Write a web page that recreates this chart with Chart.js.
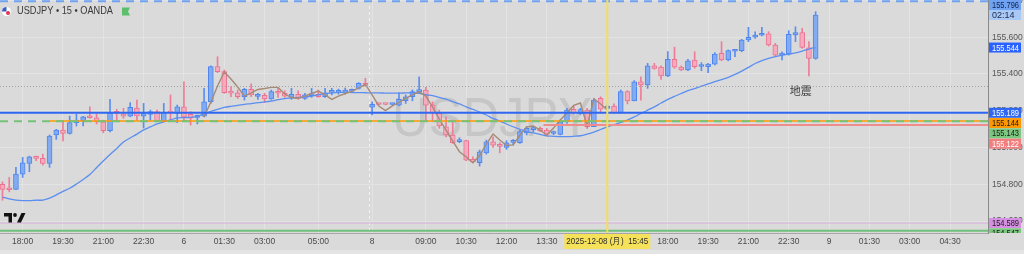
<!DOCTYPE html>
<html>
<head>
<meta charset="utf-8">
<script src="https://cdn.jsdelivr.net/npm/chart.js@4.4.1/dist/chart.umd.min.js"></script>
<style>
  html, body { margin: 0; padding: 0; background: #dadada; }
  #wrap { width: 1024px; height: 254px; }
</style>
</head>
<body>
<div id="wrap"><canvas id="chart" width="1024" height="254"></canvas></div>
<script>
// USDJPY 15m, bar 0 = 2025-12-05 17:15 (JST), weekend gap after bar 54
const opens = [
  154.799,154.772,154.772,154.855,154.913,154.949,154.941,154.913,155.068,155.095,
  155.077,155.135,155.146,155.167,155.162,155.140,155.091,155.189,155.182,155.171,
  155.215,155.170,155.180,155.195,155.144,155.192,155.186,155.222,155.180,155.164,
  155.171,155.249,155.440,155.413,155.300,155.298,155.276,155.317,155.278,155.284,
  155.264,155.298,155.295,155.273,155.289,155.267,155.282,155.289,155.276,155.300,
  155.300,155.298,155.306,155.322,155.349,155.219,155.236,155.235,155.234,155.231,
  155.255,155.276,155.304,155.313,155.231,155.186,155.113,155.068,155.032,155.037,
  154.935,154.917,154.971,155.031,155.012,155.001,155.028,155.026,155.080,155.097,
  155.104,155.095,155.076,155.071,155.140,155.208,155.186,155.204,155.113,155.267,
  155.213,155.226,155.189,155.304,155.254,155.358,155.340,155.445,155.437,155.389,
  155.480,155.437,155.422,155.476,155.441,155.440,155.454,155.513,155.476,155.524,
  155.527,155.585,155.600,155.611,155.618,155.558,155.503,155.509,155.612,155.625,
  155.543,155.485
];
const highs = [
  154.813,154.837,154.892,154.946,154.953,154.953,154.964,155.068,155.099,155.140,
  155.171,155.182,155.170,155.222,155.182,155.149,155.262,155.208,155.213,155.244,
  155.258,155.240,155.204,155.204,155.240,155.286,155.231,155.358,155.195,155.177,
  155.322,155.444,155.494,155.422,155.331,155.313,155.322,155.346,155.295,155.295,
  155.313,155.322,155.309,155.322,155.309,155.295,155.322,155.313,155.322,155.322,
  155.318,155.324,155.318,155.353,155.377,155.249,155.238,155.237,155.238,155.298,
  155.286,155.313,155.385,155.328,155.249,155.204,155.167,155.149,155.053,155.040,
  154.949,154.986,155.040,155.058,155.026,155.037,155.044,155.099,155.113,155.111,
  155.113,155.104,155.090,155.149,155.213,155.226,155.213,155.213,155.267,155.276,
  155.237,155.237,155.313,155.309,155.364,155.385,155.458,155.458,155.444,155.522,
  155.546,155.444,155.480,155.521,155.462,155.458,155.516,155.576,155.531,155.534,
  155.589,155.654,155.630,155.654,155.630,155.567,155.521,155.636,155.657,155.649,
  155.576,155.739
];
const lows = [
  154.713,154.759,154.770,154.837,154.868,154.928,154.904,154.892,155.044,155.036,
  155.073,155.117,155.117,155.159,155.128,155.080,155.085,155.140,155.159,155.167,
  155.149,155.106,155.149,155.140,155.140,155.140,155.135,155.140,155.122,155.128,
  155.167,155.240,155.407,155.295,155.276,155.267,155.258,155.276,155.262,155.244,
  155.262,155.273,155.273,155.262,155.262,155.262,155.273,155.273,155.273,155.286,
  155.290,155.290,155.298,155.318,155.333,155.177,155.232,155.232,155.232,155.226,
  155.240,155.254,155.295,155.140,155.140,155.104,155.058,155.022,155.026,154.928,
  154.917,154.899,154.964,155.001,154.971,154.990,155.013,155.022,155.068,155.084,
  155.086,155.062,155.070,155.068,155.131,155.182,155.180,155.104,155.113,155.195,
  155.204,155.186,155.186,155.237,155.254,155.258,155.322,155.426,155.371,155.385,
  155.431,155.418,155.418,155.431,155.418,155.407,155.449,155.472,155.472,155.494,
  155.521,155.576,155.594,155.607,155.552,155.498,155.476,155.503,155.576,155.540,
  155.389,155.480
];
const closes = [
  154.772,154.770,154.855,154.917,154.949,154.941,154.913,155.062,155.095,155.077,
  155.135,155.149,155.167,155.162,155.140,155.091,155.189,155.186,155.171,155.219,
  155.172,155.184,155.195,155.144,155.191,155.188,155.222,155.167,155.159,155.169,
  155.249,155.440,155.413,155.298,155.296,155.276,155.317,155.286,155.282,155.264,
  155.304,155.295,155.280,155.289,155.267,155.286,155.286,155.276,155.298,155.304,
  155.304,155.313,155.309,155.349,155.338,155.235,155.234,155.234,155.236,155.262,
  155.276,155.304,155.309,155.231,155.189,155.117,155.068,155.026,155.036,154.931,
  154.922,154.977,155.031,155.013,155.006,155.026,155.031,155.086,155.104,155.103,
  155.091,155.071,155.080,155.140,155.204,155.189,155.206,155.113,155.258,155.208,
  155.222,155.189,155.304,155.254,155.358,155.340,155.445,155.431,155.389,155.480,
  155.437,155.422,155.472,155.440,155.444,155.454,155.509,155.476,155.527,155.527,
  155.585,155.600,155.612,155.616,155.558,155.503,155.513,155.616,155.625,155.545,
  155.485,155.721
];
// blue moving average, one value per bar
const maLine = [
  154.730,154.721,154.714,154.711,154.711,154.713,154.714,154.725,154.742,154.761,
  154.778,154.801,154.826,154.853,154.890,154.927,154.962,154.995,155.030,155.052,
  155.073,155.096,155.112,155.128,155.139,155.150,155.161,155.163,155.164,155.169,
  155.182,155.196,155.208,155.218,155.224,155.229,155.235,155.239,155.244,155.248,
  155.253,155.260,155.266,155.269,155.272,155.275,155.280,155.287,155.293,155.297,
  155.300,155.300,155.299,155.299,155.298,155.297,155.297,155.296,155.296,155.296,
  155.297,155.298,155.294,155.287,155.282,155.273,155.263,155.250,155.237,155.221,
  155.207,155.193,155.177,155.158,155.144,155.128,155.113,155.099,155.087,155.079,
  155.071,155.063,155.061,155.059,155.059,155.061,155.064,155.073,155.084,155.098,
  155.112,155.124,155.137,155.149,155.166,155.185,155.203,155.221,155.242,155.262,
  155.278,155.294,155.309,155.321,155.334,155.346,155.358,155.370,155.382,155.398,
  155.416,155.436,155.457,155.473,155.485,155.495,155.502,155.508,155.515,155.525,
  155.536,155.544
];
// brown line, bars 30..90
const swingStart = 30;
const swingLine = [
  155.166,155.248,155.335,155.411,155.373,155.329,155.280,155.297,155.316,155.321,
  155.327,155.327,155.291,155.272,155.268,155.280,155.294,155.307,155.286,155.262,
  155.280,155.294,155.305,155.324,155.343,155.286,155.226,155.201,155.226,155.245,
  155.267,155.286,155.304,155.280,155.220,155.155,155.095,155.035,154.977,154.948,
  154.917,154.956,155.019,155.073,155.041,155.011,155.014,155.068,155.112,155.117,
  155.095,155.068,155.106,155.150,155.188,155.229,155.242,155.117,155.264,155.237,
  155.204
];

const timeTickIdx = [3, 9, 15, 21, 27, 33, 39, 47, 55, 63, 69, 75, 81, 99, 105, 111, 117, 123, 129, 135, 141];
const timeTickText = ['18:00', '19:30', '21:00', '22:30', '6', '01:30', '03:00', '05:00', '8', '09:00', '10:30',
  '12:00', '13:30', '18:00', '19:30', '21:00', '22:30', '9', '01:30', '03:00', '04:30'];
const priceTicks = [154.6, 154.8, 155.0, 155.2, 155.4, 155.6, 155.8];

// horizontal levels and their price tags
const levelValues = [155.796, 155.544, 155.189, 155.144, 155.143, 155.122, 154.589, 154.547];
const levelFrom = [null, null, null, 7, null, 80.5, null, null];   // bar index where line starts
const crossBar = 90;
const crossPrice = 155.335;
const crossText = '2025-12-08 (月)  15:45';
const countdown = '02:14';
const sessionBreak = 54.5;
const noteBar = 118.8;
const notePrice = 155.308;
const noteText = '地震';

const levelStyle = [
  { line: '#6fa3f2', w: 2, dash: [8, 6], tag: '#6fa3f2', ink: '#14224a' },
  { line: null, tag: '#2962ff', ink: '#ffffff' },
  { line: '#2f67f0', w: 2, dash: [], tag: '#2f67f0', ink: '#ffffff' },
  { line: '#ff9800', w: 1.6, dash: [], tag: '#ff9800', ink: '#1a1a1a' },
  { line: '#74c37a', w: 2, dash: [8, 6], tag: '#7cc77f', ink: '#1a1a1a' },
  { line: '#f08c8c', w: 2, dash: [], tag: '#f27f7f', ink: '#ffffff' },
  { line: '#d6b0de', w: 1, dash: [], tag: '#d690e2', ink: '#1a1a1a' },
  { line: '#6fc07a', w: 2, dash: [], tag: '#7cc77f', ink: '#1a1a1a' }
];

const SANS = '"Liberation Sans", Arial, sans-serif';
Chart.defaults.font.family = SANS;
Chart.defaults.font.size = 8.5;

const bars = opens.map((_, i) => i);
const isUp = bars.map(i => closes[i] >= opens[i]);

const decor = {
  id: 'decor',
  beforeDraw(chart) {
    const { ctx, width, height } = chart;
    ctx.save();
    ctx.fillStyle = '#dadada';
    ctx.fillRect(0, 0, width, height);
    ctx.fillStyle = '#e4e4e4';
    ctx.fillRect(0, 250, width, 4);
    ctx.restore();
  },
  beforeDatasetsDraw(chart) {
    const { ctx, chartArea: a, scales: { x } } = chart;
    ctx.save();
    ctx.beginPath();
    ctx.rect(a.left, a.top, a.right - a.left, a.bottom - a.top);
    ctx.clip();
    ctx.font = '55px ' + SANS;
    ctx.fillStyle = 'rgba(0,0,0,0.09)';
    ctx.textAlign = 'center';
    ctx.textBaseline = 'middle';
    ctx.fillText('USDJPY', 492, 121, 200);
    const sx = Math.round(x.getPixelForValue(sessionBreak)) + 0.5;
    ctx.strokeStyle = '#f2f2f2';
    ctx.lineWidth = 1;
    ctx.setLineDash([3, 3]);
    ctx.beginPath();
    ctx.moveTo(sx, a.top);
    ctx.lineTo(sx, a.bottom);
    ctx.stroke();
    ctx.restore();
  },
  afterDatasetsDraw(chart) {
    const { ctx, chartArea: a, scales: { x, y } } = chart;
    ctx.save();
    ctx.beginPath();
    ctx.rect(a.left, a.top, a.right - a.left, a.bottom - a.top);
    ctx.clip();
    // level lines
    levelValues.forEach((v, i) => {
      const s = levelStyle[i];
      if (!s.line) return;
      const py = y.getPixelForValue(v);
      const x0 = levelFrom[i] === null ? a.left : x.getPixelForValue(levelFrom[i]);
      ctx.strokeStyle = s.line;
      ctx.lineWidth = s.w;
      ctx.setLineDash(s.dash);
      ctx.beginPath();
      ctx.moveTo(x0, py);
      ctx.lineTo(a.right, py);
      ctx.stroke();
    });
    // crosshair
    const cy = Math.round(y.getPixelForValue(crossPrice)) + 0.5;
    ctx.strokeStyle = '#a2a2a2';
    ctx.lineWidth = 1;
    ctx.setLineDash([1, 2]);
    ctx.beginPath();
    ctx.moveTo(a.left, cy);
    ctx.lineTo(a.right, cy);
    ctx.stroke();
    const cx = x.getPixelForValue(crossBar);
    ctx.setLineDash([]);
    ctx.strokeStyle = '#f4de57';
    ctx.lineWidth = 2;
    ctx.beginPath();
    ctx.moveTo(cx, a.top);
    ctx.lineTo(cx, a.bottom);
    ctx.stroke();
    // note
    ctx.font = '11px "Noto Sans CJK JP", sans-serif';
    ctx.fillStyle = '#3c3c3c';
    ctx.textAlign = 'center';
    ctx.textBaseline = 'middle';
    ctx.fillText(noteText, x.getPixelForValue(noteBar), y.getPixelForValue(notePrice));
    ctx.restore();
  },
  afterDraw(chart) {
    const { ctx, chartArea: a, scales: { x, y } } = chart;
    ctx.save();
    // price tags on the right axis
    ctx.beginPath();
    ctx.rect(a.right, 0, chart.width - a.right, a.bottom);
    ctx.clip();
    ctx.font = '9px ' + SANS;
    ctx.textBaseline = 'middle';
    ctx.textAlign = 'left';
    let last = -100;
    levelValues.forEach((v, i) => {
      const s = levelStyle[i];
      let ty = Math.max(y.getPixelForValue(v), last + 10.3, 5);
      ctx.fillStyle = s.tag;
      ctx.fillRect(a.right + 1, ty - 5, 32, 10);
      ctx.fillStyle = s.ink;
      ctx.fillText(v.toFixed(3), a.right + 4, ty + 0.5, 27);
      last = ty;
      if (i === 0) {
        ty += 10;
        ctx.fillStyle = '#a8c8f5';
        ctx.fillRect(a.right + 1, ty - 5, 32, 10);
        ctx.fillStyle = '#1e2a4a';
        ctx.fillText(countdown, a.right + 4, ty + 0.5, 27);
        last = ty;
      }
    });
    ctx.restore();

    ctx.save();
    // time label under the crosshair
    const cx = x.getPixelForValue(crossBar);
    ctx.fillStyle = '#f6e25a';
    ctx.fillRect(cx - 43, a.bottom + 1, 86, 15);
    ctx.font = '8.5px ' + SANS;
    ctx.fillStyle = '#2a2a2a';
    ctx.textAlign = 'center';
    ctx.textBaseline = 'middle';
    ctx.fillText(crossText, cx, a.bottom + 8.5, 82);

    // title
    ctx.beginPath();
    ctx.arc(6.5, 11.5, 4.5, 0, Math.PI * 2);
    ctx.fillStyle = '#ffffff';
    ctx.fill();
    ctx.beginPath();
    ctx.moveTo(6.5, 11.5);
    ctx.arc(6.5, 11.5, 4.5, Math.PI, Math.PI * 1.5);
    ctx.closePath();
    ctx.fillStyle = '#3b5cc4';
    ctx.fill();
    ctx.beginPath();
    ctx.arc(8, 13, 2, 0, Math.PI * 2);
    ctx.fillStyle = '#e0364b';
    ctx.fill();
    ctx.font = '10.5px ' + SANS;
    ctx.fillStyle = '#3a3a3a';
    ctx.textAlign = 'left';
    ctx.fillText('USDJPY • 15 • OANDA', 17, 11.5, 96);
    ctx.fillStyle = '#5cbf6b';
    ctx.beginPath();
    ctx.moveTo(122, 7.5);
    ctx.lineTo(130, 7.5);
    ctx.lineTo(128, 11.5);
    ctx.lineTo(130, 15.5);
    ctx.lineTo(122, 15.5);
    ctx.closePath();
    ctx.fill();

    // logo
    ctx.fillStyle = '#111111';
    ctx.beginPath();
    ctx.rect(4, 213, 8, 3.5);
    ctx.rect(8.5, 213, 3.5, 9.5);
    ctx.fill();
    ctx.beginPath();
    ctx.arc(15, 215, 1.9, 0, Math.PI * 2);
    ctx.fill();
    ctx.beginPath();
    ctx.moveTo(17, 222.5);
    ctx.lineTo(21.5, 213);
    ctx.lineTo(25.5, 213);
    ctx.lineTo(21, 222.5);
    ctx.closePath();
    ctx.fill();
    ctx.restore();
  }
};

new Chart(document.getElementById('chart'), {
  type: 'bar',
  data: {
    datasets: [
      {
        type: 'line',
        label: 'swing',
        data: swingLine.map((v, j) => ({ x: swingStart + j, y: v })),
        borderColor: '#a68b77',
        borderWidth: 1.4,
        pointRadius: 0,
        order: 0
      },
      {
        type: 'line',
        label: 'MA',
        data: bars.map(i => ({ x: i, y: maLine[i] })),
        borderColor: '#5c8ef0',
        borderWidth: 1.3,
        pointRadius: 0,
        tension: 0.3,
        order: 1
      },
      {
        label: 'body',
        data: bars.map(i => ({ x: i, y: [opens[i], closes[i]] })),
        backgroundColor: bars.map(i => isUp[i] ? '#82abf2' : '#f5abbd'),
        borderColor: bars.map(i => isUp[i] ? '#4f86ee' : '#ea7392'),
        borderWidth: 1,
        borderSkipped: false,
        barThickness: 5,
        minBarLength: 2,
        grouped: false,
        order: 2
      },
      {
        label: 'wick',
        data: bars.map(i => ({ x: i, y: [lows[i], highs[i]] })),
        backgroundColor: bars.map(i => isUp[i] ? '#5a8ef0' : '#ee7d99'),
        borderWidth: 0,
        barThickness: 1,
        grouped: false,
        order: 3
      }
    ]
  },
  plugins: [decor],
  options: {
    responsive: false,
    devicePixelRatio: 1,
    animation: false,
    layout: { padding: 0 },
    plugins: { legend: { display: false }, tooltip: { enabled: false } },
    scales: {
      x: {
        type: 'linear',
        min: -0.372,
        max: 146.65,
        offset: false,
        grid: { color: '#e3e3e3', offset: false, drawTicks: false },
        border: { color: '#a6a6a6' },
        afterBuildTicks: s => { s.ticks = timeTickIdx.map(v => ({ value: v })); },
        ticks: {
          autoSkip: false,
          maxRotation: 0,
          padding: 4,
          color: '#4a4a4a',
          callback: v => timeTickText[timeTickIdx.indexOf(v)]
        },
        afterFit: s => { s.height = 21; s.paddingLeft = 0; s.paddingRight = 0; }
      },
      y: {
        position: 'right',
        min: 154.5347,
        max: 155.8027,
        grid: { color: '#e3e3e3', drawTicks: false },
        border: { color: '#8a8a8a' },
        afterBuildTicks: s => { s.ticks = priceTicks.map(v => ({ value: v })); },
        ticks: { padding: 4, color: '#555555', callback: v => v.toFixed(3) },
        afterFit: s => { s.width = 36; s.paddingTop = 0; s.paddingBottom = 0; }
      }
    }
  }
});
</script>
</body>
</html>
